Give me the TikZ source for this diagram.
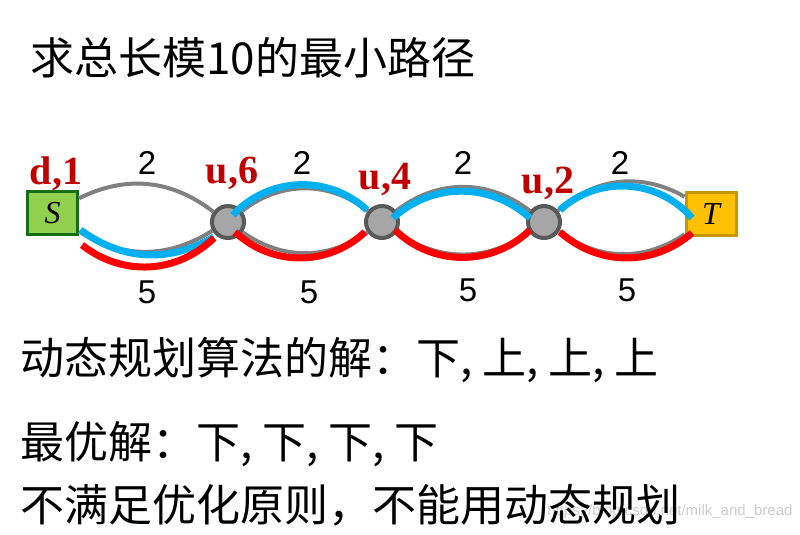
\documentclass[tikz,border=0pt]{standalone}
\usepackage{fontspec}
\setmainfont{Liberation Serif}
\setsansfont{Liberation Sans}
\newfontfamily\cjk{Noto Sans CJK SC}
\definecolor{arcgray}{RGB}{128,128,128}
\definecolor{hlblue}{RGB}{0,176,240}
\definecolor{hlred}{RGB}{255,0,0}
\definecolor{tagred}{RGB}{192,0,0}
\definecolor{stfill}{RGB}{166,166,166}
\definecolor{stedge}{RGB}{89,89,89}
\definecolor{srcfill}{RGB}{146,208,80}
\definecolor{srcedge}{RGB}{20,110,20}
\definecolor{snkfill}{RGB}{255,192,0}
\definecolor{snkedge}{RGB}{200,150,0}
\definecolor{wmark}{RGB}{205,205,205}

\begin{document}
\begin{tikzpicture}[x=1pt,y=1pt,
  garc/.style={draw=arcgray,line width=4pt},
  bluehl/.style={draw=hlblue,line width=7pt},
  redhl/.style={draw=hlred,line width=7pt},
  stage/.style={circle,draw=stedge,fill=stfill,line width=4pt,minimum size=32pt,inner sep=0pt},
  term/.style={rectangle,line width=3pt,minimum width=50pt,minimum height=43pt,inner sep=0pt,font=\fontsize{32}{34}\selectfont\itshape},
  tag/.style={anchor=base,text=tagred,font=\fontsize{40}{44}\selectfont\bfseries},
  wt/.style={font=\sffamily\fontsize{33}{36}\selectfont},
  txt/.style={anchor=west,inner sep=0pt,font=\cjk\fontsize{44}{50}\selectfont}]
\useasboundingbox (0,0) rectangle (800,-535);
% watermark
\node[anchor=east,text=wmark,font=\sffamily\fontsize{15}{17}\selectfont] (wm) at (796,-512) {https://blog.csdn.net/milk\_and\_bread};
% stages
\node[term,draw=srcedge,fill=srcfill] (S) at (52.5,-213) {S};
\node[stage] (u6) at (228,-222) {};
\node[stage] (u4) at (382,-222) {};
\node[stage] (u2) at (544,-222) {};
\node[term,draw=snkedge,fill=snkfill] (T) at (711,-214) {T};
% arcs
\draw[garc] (S) to[bend left=32] (u6);
\draw[garc] (S) to[bend right=32] (u6);
\draw[garc] (u6) to[bend left=38] (u4);
\draw[garc] (u6) to[bend right=35] (u4);
\draw[garc] (u4) to[bend left=38] (u2);
\draw[garc] (u4) to[bend right=35] (u2);
\draw[garc] (u2) to[bend left=36] (T);
\draw[garc] (u2) to[bend right=35] (T);
% dynamic programming path
\draw[bluehl] ([shift={(28,-17)}]S.center) to[bend right=33] ([shift={(-14,-15)}]u6.center);
\draw[bluehl] ([shift={(5,7)}]u6.center) to[bend left=45] ([shift={(-15,12)}]u4.center);
\draw[bluehl] ([shift={(11,4)}]u4.center) to[bend left=42] ([shift={(-14,4)}]u2.center);
\draw[bluehl] ([shift={(16,12)}]u2.center) to[bend left=46] ([shift={(-19,-4)}]T.center);
% optimal path
\draw[redhl] ([shift={(29.5,-32)}]S.center) to[bend right=41] ([shift={(-14,-16)}]u6.center);
\draw[redhl] ([shift={(7,-10)}]u6.center) to[bend right=43] ([shift={(-17,-10)}]u4.center);
\draw[redhl] ([shift={(13,-8)}]u4.center) to[bend right=44] ([shift={(-14,-8)}]u2.center);
\draw[redhl] ([shift={(16,-10)}]u2.center) to[bend right=41] ([shift={(-19,-19)}]T.center);
% decisions
\node[tag] (d1) at (56,-184) {d,1};
\node[tag] (d6) at (232,-183) {u,6};
\node[tag] (d4) at (385,-189) {u,4};
\node[tag] (d2) at (548,-193) {u,2};
% weights
\node[wt] (a1) at (147,-163) {2};
\node[wt] (a2) at (302,-163) {2};
\node[wt] (a3) at (463,-163) {2};
\node[wt] (a4) at (620,-163) {2};
\node[wt] (b1) at (147,-292) {5};
\node[wt] (b2) at (309,-292) {5};
\node[wt] (b3) at (468,-290) {5};
\node[wt] (b4) at (627,-290) {5};
% texts
\node[txt] (title) at (30,-58) {求总长模10的最小路径};
\node[txt] (l1) at (20,-360) {动态规划算法的解：下, 上, 上, 上};
\node[txt] (l2) at (20,-444) {最优解：下, 下, 下, 下};
\node[txt] (l3) at (20,-505) {不满足优化原则，不能用动态规划};
\end{tikzpicture}
\end{document}
